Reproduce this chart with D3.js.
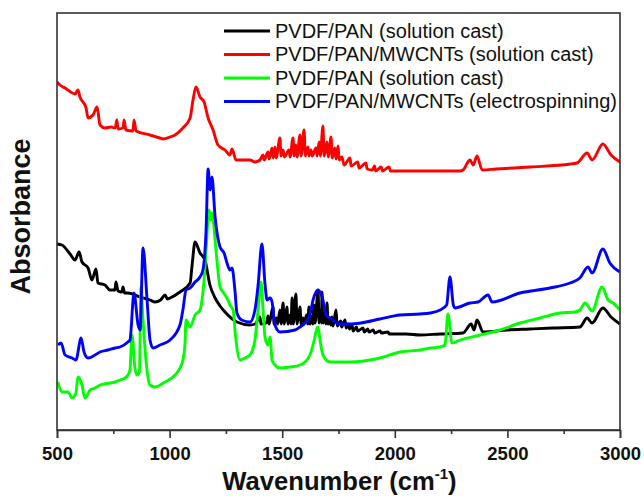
<!DOCTYPE html>
<html>
<head>
<meta charset="utf-8">
<script src="https://cdn.jsdelivr.net/npm/d3@7"></script>
<style>
  html, body { margin: 0; padding: 0; background: #fff; }
  svg { display: block; }
  text { font-family: "Liberation Sans", Arial, sans-serif; }
</style>
</head>
<body>
<div id="chart"></div>
<script>
// ---- Data (wavenumber in cm-1, absorbance in arbitrary units) ----
const seriesNames = [
  "PVDF/PAN (solution cast)",
  "PVDF/PAN/MWCNTs (solution cast)",
  "PVDF/PAN (solution cast)",
  "PVDF/PAN/MWCNTs (electrospinning)"
];
const seriesColors = ["#000000", "#ff0000", "#00ff00", "#0000ff"];

const xTicks = [500, 1000, 1500, 2000, 2500, 3000];
const xMinorTicks = [750, 1250, 1750, 2250, 2750];

const blackData = [
  [500,1.86],[522,1.85],[558,1.76],[580,1.70],[598,1.78],[611,1.68],[638,1.62],[655,1.50],
  [673,1.61],[682,1.47],[713,1.45],[735,1.40],[757,1.40],[762,1.48],[771,1.39],[788,1.38],
  [793,1.43],[800,1.37],[815,1.37],[869,1.33],[913,1.30],[935,1.28],[960,1.30],[980,1.35],
  [990,1.31],[1002,1.32],[1046,1.38],[1091,1.47],[1100,1.65],[1113,1.88],[1135,1.77],
  [1157,1.70],[1179,1.45],[1202,1.32],[1224,1.24],[1246,1.18],[1299,1.08],[1357,1.05],
  [1380,1.06],[1401,1.13],[1406,1.06],[1430,1.07],[1437,1.14],[1442,1.06],[1459,1.23],
  [1464,1.06],[1475,1.12],[1480,1.06],[1490,1.20],[1495,1.06],[1504,1.27],[1509,1.06],
  [1521,1.23],[1526,1.06],[1535,1.15],[1539,1.06],[1544,1.32],[1549,1.06],[1561,1.36],
  [1566,1.06],[1579,1.23],[1584,1.06],[1592,1.12],[1597,1.06],[1608,1.15],[1613,1.06],
  [1619,1.23],[1624,1.06],[1632,1.14],[1636,1.06],[1641,1.25],[1646,1.07],[1659,1.40],
  [1664,1.07],[1670,1.20],[1674,1.07],[1677,1.38],[1682,1.07],[1690,1.16],[1694,1.06],
  [1699,1.27],[1704,1.06],[1712,1.12],[1716,1.05],[1721,1.13],[1726,1.04],[1739,1.20],
  [1744,1.04],[1760,1.09],[1764,1.03],[1779,1.10],[1784,1.02],[1795,1.06],[1799,1.01],
  [1810,1.05],[1815,0.99],[1830,1.03],[1835,0.99],[1859,1.02],[1864,0.98],[1880,1.01],
  [1885,0.98],[1905,1.00],[1910,0.97],[1935,0.99],[1940,0.97],[1970,0.98],[1975,0.96],
  [2050,0.96],[2112,0.95],[2200,0.96],[2303,0.97],[2339,1.06],[2352,1.00],[2365,1.10],
  [2392,0.98],[2500,1.00],[2600,1.01],[2700,1.02],[2822,1.03],[2854,1.12],[2876,1.07],
  [2924,1.22],[2960,1.13],[3000,1.06]
];

const redData = [
  [500,3.48],[513,3.45],[536,3.42],[580,3.36],[593,3.40],[602,3.33],[629,3.22],[638,3.12],
  [660,3.15],[678,3.23],[691,3.05],[713,3.02],[740,3.03],[758,3.02],[766,3.10],[771,3.01],
  [793,3.02],[798,3.10],[806,3.00],[837,2.99],[842,3.10],[851,2.99],[913,2.95],[957,2.92],
  [971,2.91],[1002,2.93],[1024,2.95],[1059,3.02],[1091,3.12],[1104,3.30],[1117,3.43],
  [1135,3.33],[1153,3.28],[1171,3.12],[1193,3.00],[1215,2.85],[1246,2.80],[1268,2.75],
  [1277,2.81],[1295,2.70],[1313,2.70],[1357,2.70],[1379,2.68],[1401,2.70],[1415,2.75],
  [1420,2.70],[1437,2.78],[1442,2.71],[1455,2.82],[1460,2.72],[1468,2.83],[1473,2.72],
  [1490,2.92],[1495,2.74],[1504,2.80],[1510,2.73],[1530,2.80],[1535,2.73],[1548,2.92],
  [1553,2.74],[1561,2.85],[1566,2.73],[1579,2.95],[1584,2.74],[1597,3.00],[1603,2.74],
  [1614,2.83],[1619,2.74],[1628,2.80],[1633,2.74],[1650,2.82],[1655,2.74],[1664,2.88],
  [1669,2.74],[1681,3.04],[1686,2.74],[1699,2.88],[1704,2.73],[1717,2.93],[1722,2.72],
  [1734,2.82],[1739,2.71],[1748,2.84],[1753,2.70],[1765,2.73],[1775,2.65],[1801,2.72],
  [1806,2.64],[1836,2.68],[1841,2.62],[1872,2.67],[1877,2.61],[1900,2.60],[1910,2.64],
  [1915,2.59],[1940,2.63],[1945,2.59],[1975,2.63],[1980,2.59],[2050,2.59],[2156,2.59],
  [2290,2.59],[2303,2.60],[2334,2.70],[2348,2.65],[2365,2.74],[2388,2.60],[2450,2.61],
  [2600,2.63],[2780,2.66],[2809,2.67],[2854,2.77],[2876,2.70],[2924,2.86],[2960,2.75],
  [3000,2.68]
];

const greenData = [
  [504,0.48],[522,0.38],[549,0.38],[567,0.32],[584,0.37],[593,0.53],[611,0.45],[624,0.32],
  [647,0.40],[669,0.42],[691,0.45],[735,0.47],[758,0.48],[780,0.50],[802,0.52],[815,0.55],
  [824,0.60],[833,0.95],[846,0.62],[855,0.55],[866,0.58],[873,1.43],[882,1.10],[895,0.70],
  [913,0.45],[935,0.43],[980,0.48],[1024,0.55],[1046,0.62],[1059,0.70],[1068,0.85],
  [1073,1.10],[1091,1.03],[1113,1.15],[1135,1.20],[1144,1.30],[1153,1.50],[1162,1.80],
  [1175,2.20],[1182,2.10],[1188,2.17],[1202,1.90],[1210,1.70],[1224,1.43],[1237,1.38],
  [1259,1.30],[1268,1.25],[1282,1.20],[1290,1.00],[1313,0.70],[1335,0.72],[1357,0.75],
  [1379,0.90],[1393,1.20],[1406,1.48],[1415,1.20],[1424,0.92],[1437,0.85],[1446,0.93],
  [1455,0.70],[1468,0.65],[1490,0.62],[1535,0.63],[1579,0.65],[1601,0.68],[1623,0.75],
  [1637,0.85],[1659,1.03],[1668,0.90],[1681,0.75],[1712,0.68],[1801,0.68],[1934,0.72],
  [2023,0.78],[2112,0.80],[2156,0.82],[2201,0.83],[2223,0.85],[2236,1.16],[2254,0.87],
  [2290,0.90],[2379,0.95],[2467,1.00],[2556,1.07],[2645,1.12],[2734,1.17],[2800,1.18],
  [2822,1.20],[2845,1.27],[2876,1.19],[2920,1.43],[2947,1.30],[2969,1.27],[3000,1.20]
];

const blueData = [
  [504,0.85],[518,0.87],[536,0.75],[567,0.72],[584,0.70],[607,0.92],[620,0.78],[638,0.72],
  [669,0.75],[691,0.78],[726,0.80],[758,0.82],[780,0.83],[815,0.88],[824,0.90],[842,1.37],
  [860,1.05],[869,1.00],[882,1.82],[900,1.30],[913,0.90],[926,0.82],[957,0.85],[1002,0.90],
  [1046,1.05],[1059,1.20],[1073,1.40],[1091,1.42],[1113,1.48],[1135,1.53],[1148,1.60],
  [1162,2.00],[1171,2.61],[1180,2.40],[1188,2.53],[1202,2.13],[1224,1.83],[1242,1.77],
  [1255,1.67],[1268,1.60],[1277,1.62],[1290,1.40],[1299,1.17],[1320,1.10],[1357,1.08],
  [1379,1.20],[1393,1.45],[1410,1.86],[1424,1.45],[1433,1.30],[1446,1.32],[1455,1.28],
  [1468,1.05],[1490,0.98],[1557,1.00],[1579,1.03],[1601,1.07],[1623,1.15],[1637,1.30],
  [1659,1.40],[1668,1.38],[1681,1.30],[1694,1.15],[1712,1.12],[1757,1.06],[1801,1.06],
  [1850,1.07],[1934,1.11],[2023,1.15],[2112,1.16],[2156,1.17],[2201,1.20],[2230,1.25],
  [2245,1.53],[2260,1.25],[2267,1.22],[2334,1.27],[2370,1.28],[2414,1.35],[2432,1.28],
  [2556,1.37],[2689,1.42],[2778,1.47],[2822,1.52],[2858,1.63],[2876,1.57],[2924,1.81],
  [2955,1.67],[3000,1.58]
];

const allSeries = [blackData, redData, greenData, blueData];

// ---- Layout ----
const W = 644, H = 499;
const margin = { left: 57, right: 24, top: 13, bottom: 69 };

const svg = d3.select("#chart").append("svg")
  .attr("width", W).attr("height", H);

const x = d3.scaleLinear().domain([500, 3000]).range([margin.left, W - margin.right]);
const y = d3.scaleLinear().domain([0, 4.17]).range([H - margin.bottom, margin.top]);

const line = d3.line().x(d => x(d[0])).y(d => y(d[1])).curve(d3.curveMonotoneX);

svg.append("clipPath").attr("id", "clip").append("rect")
  .attr("x", margin.left).attr("y", margin.top)
  .attr("width", x(3000) - x(500)).attr("height", y(0) - y(4.17));
const plot = svg.append("g").attr("clip-path", "url(#clip)");

allSeries.forEach((data, i) => {
  plot.append("path")
    .datum(data)
    .attr("fill", "none")
    .attr("stroke", seriesColors[i])
    .attr("stroke-width", 2.9)
    .attr("stroke-linejoin", "round")
    .attr("d", line);
});

// Frame
const frameColor = "#333";
svg.append("rect")
  .attr("x", x(500)).attr("y", y(4.17))
  .attr("width", x(3000) - x(500)).attr("height", y(0) - y(4.17))
  .attr("fill", "none").attr("stroke", frameColor).attr("stroke-width", 1.6);

// Bottom axis
const xAxis = svg.append("g")
  .attr("transform", `translate(0,${y(0)})`)
  .call(d3.axisBottom(x).tickValues(xTicks).tickSize(8).tickFormat(d3.format("d")));
xAxis.select(".domain").attr("stroke", frameColor).attr("stroke-width", 1.6);
xAxis.selectAll(".tick line").attr("stroke", frameColor).attr("stroke-width", 1.6);
xAxis.selectAll(".tick text")
  .attr("y", 17)
  .attr("font-size", "18.5px").attr("font-weight", "bold")
  .attr("font-family", "Liberation Sans, Arial, sans-serif").attr("fill", "#111");

const xMinor = svg.append("g")
  .attr("transform", `translate(0,${y(0)})`)
  .call(d3.axisBottom(x).tickValues(xMinorTicks).tickSize(4).tickFormat(""));
xMinor.select(".domain").remove();
xMinor.selectAll(".tick line").attr("stroke", frameColor).attr("stroke-width", 1.6);

// Axis titles
const xt = svg.append("text")
  .attr("x", (x(500) + x(3000)) / 2 + 1)
  .attr("y", 490)
  .attr("text-anchor", "middle")
  .attr("font-size", "25.6px").attr("font-weight", "bold").attr("fill", "#111");
xt.append("tspan").text("Wavenumber (cm");
xt.append("tspan").attr("font-size", "15px").attr("dy", -11).text("-1");
xt.append("tspan").attr("dy", 11).text(")");

svg.append("text")
  .attr("transform", `translate(30,${(y(0) + y(4.17)) / 2 - 5}) rotate(-90)`)
  .attr("text-anchor", "middle")
  .attr("font-size", "27px").attr("font-weight", "bold").attr("fill", "#111")
  .text("Absorbance");

// Legend
const legendRowY = [31, 54.5, 78, 101.5];
const legend = svg.append("g");
seriesNames.forEach((name, i) => {
  const g = legend.append("g").attr("transform", `translate(224,${legendRowY[i]})`);
  g.append("line").attr("x1", 0).attr("x2", 46).attr("y1", 0).attr("y2", 0)
    .attr("stroke", seriesColors[i]).attr("stroke-width", 2.9);
  g.append("text").attr("x", 51).attr("y", 6.8)
    .attr("font-size", "20px").attr("fill", "#111").text(name);
});
</script>
</body>
</html>
